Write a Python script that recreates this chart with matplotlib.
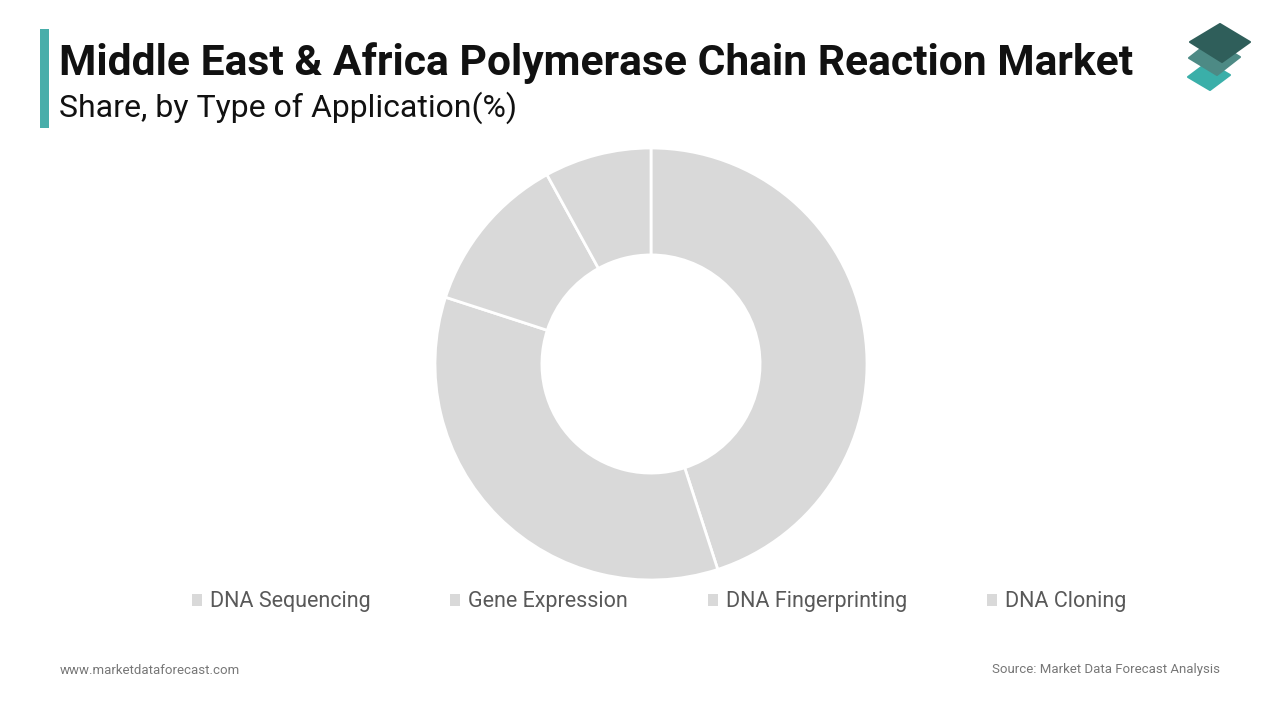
import matplotlib
matplotlib.use("Agg")
import matplotlib.pyplot as plt
from matplotlib.patches import Rectangle, Polygon

plt.rcParams['font.family'] = ['Roboto', 'DejaVu Sans']

# data
categories = ["DNA Sequencing", "Gene Expression", "DNA Fingerprinting", "DNA Cloning"]
shares = [45, 35, 12, 8]
slice_color = "#d9d9d9"

W, H = 1280, 720
fig = plt.figure(figsize=[12.8, 7.2], dpi=100)
fig.patch.set_facecolor("white")

def px(x, y):
    # pixel coords (from top-left) -> figure fraction
    return x / W, 1 - y / H

# title block
fig.patches.append(Rectangle(px(40, 128), 9 / W, 99 / H, transform=fig.transFigure,
                             facecolor="#48aeaa", edgecolor="none"))
fig.text(*px(59, 63), "Middle East & Africa Polymerase Chain Reaction Market",
         fontsize=30.7, fontweight="bold", color="#111111", va="center", ha="left")
fig.text(*px(59, 108), "Share, by Type of Application(%)",
         fontsize=23, color="#111111", va="center", ha="left")

# logo
logo = [
    ([(1188, 77), (1208, 62), (1230, 75), (1210, 90)], "#3aafa9"),
    ([(1189, 58), (1212, 40), (1240, 57), (1217, 75)], "#4d8a85"),
    ([(1190, 42), (1220, 24), (1250, 42), (1222, 62)], "#2f5e5a"),
]
for pts, c in logo:
    fig.patches.append(Polygon([px(x, y) for x, y in pts], closed=True,
                               transform=fig.transFigure, facecolor=c,
                               edgecolor=c, linewidth=1.5, joinstyle="round"))

# donut
cx, cy, r = 651, 364, 216
ax = fig.add_axes([(cx - r) / W, 1 - (cy + r) / H, 2 * r / W, 2 * r / H])
wedges, _ = ax.pie(shares, startangle=90, counterclock=False,
                   colors=[slice_color] * len(shares), radius=1,
                   wedgeprops=dict(width=0.495, edgecolor="white", linewidth=2))
ax.set_xlim(-1, 1)
ax.set_ylim(-1, 1)
ax.set_aspect("equal")
ax.axis("off")

leg = fig.legend(wedges, categories, loc="center", bbox_to_anchor=(px(659, 602)),
                 ncol=4, frameon=False, fontsize=15.5, handlelength=0.45,
                 handleheight=0.45, handletextpad=0.37, columnspacing=3.73)
for t in leg.get_texts():
    t.set_color("#595959")
for h in leg.legend_handles:
    h.set_edgecolor("none")

# footer
fig.text(*px(60, 670), "www.marketdataforecast.com", fontsize=9.5, color="#777777",
         va="center", ha="left")
fig.text(*px(1220, 670), "Source: Market Data Forecast Analysis", fontsize=9.5,
         color="#777777", va="center", ha="right")

fig.savefig("out.png", dpi=100)
